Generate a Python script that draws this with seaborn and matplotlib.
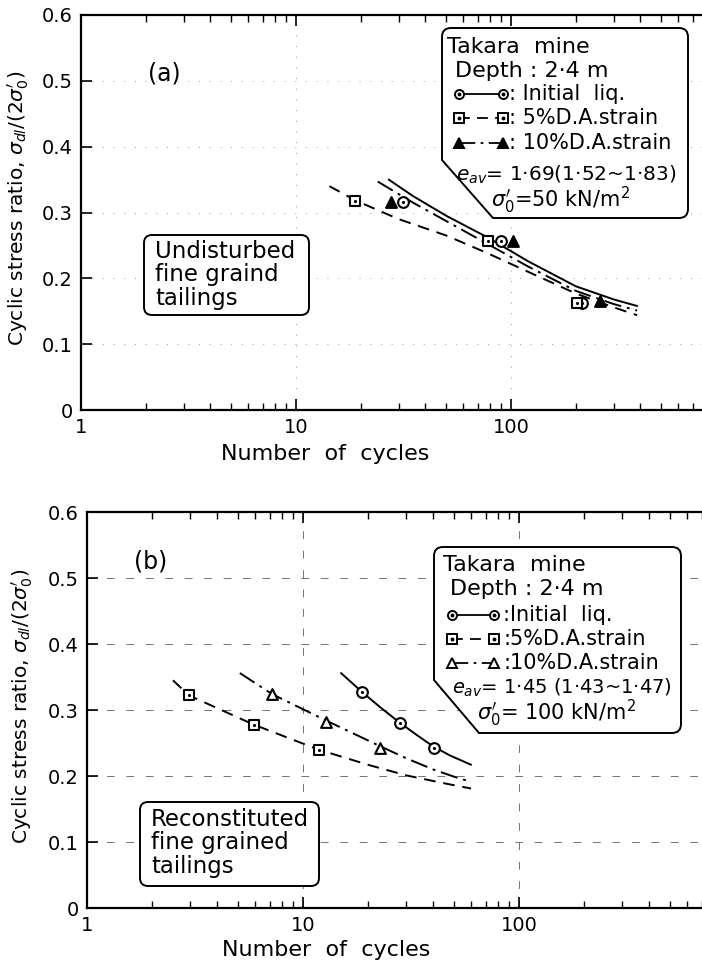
import numpy as np
import pandas as pd
import matplotlib
matplotlib.use("Agg")
import matplotlib.pyplot as plt
import seaborn as sns
from matplotlib.path import Path
from matplotlib.patches import PathPatch
from matplotlib.lines import Line2D
from matplotlib.ticker import FixedLocator, LogLocator, NullFormatter

# ==========================
# DATA
# ==========================
# panel (a) - undisturbed, test points
a_liq_N = [31.5, 90, 214]
a_liq_r = [0.316, 0.257, 0.163]
a_5_N = [18.8, 78, 203]
a_5_r = [0.317, 0.257, 0.163]
a_10_N = [27.7, 102, 259]
a_10_r = [0.316, 0.257, 0.165]

# panel (a) - fitted curves
a_liq_curve_N = [27, 35, 50, 78, 120, 200, 300, 386]
a_liq_curve_r = [0.350, 0.325, 0.295, 0.262, 0.226, 0.188, 0.168, 0.158]
a_10_curve_N = [24, 35, 50, 78, 120, 200, 300, 386]
a_10_curve_r = [0.347, 0.315, 0.287, 0.252, 0.218, 0.181, 0.161, 0.151]
a_5_curve_N = [14.3, 19, 30, 50, 78, 120, 200, 300, 386]
a_5_curve_r = [0.340, 0.318, 0.290, 0.265, 0.238, 0.210, 0.177, 0.156, 0.144]

# panel (b) - reconstituted, test points
b_liq_N = [18.8, 28, 40.2]
b_liq_r = [0.327, 0.281, 0.243]
b_5_N = [2.97, 5.9, 11.8]
b_5_r = [0.322, 0.278, 0.240]
b_10_N = [7.2, 12.8, 22.8]
b_10_r = [0.324, 0.282, 0.243]

# panel (b) - fitted curves
b_liq_curve_N = [15, 18.8, 23, 28, 34, 40, 48, 60]
b_liq_curve_r = [0.356, 0.327, 0.303, 0.281, 0.261, 0.245, 0.231, 0.217]
b_10_curve_N = [5.1, 7.2, 12.8, 22.8, 30, 40, 50, 60]
b_10_curve_r = [0.356, 0.324, 0.284, 0.245, 0.227, 0.210, 0.199, 0.191]
b_5_curve_N = [2.5, 2.97, 5.9, 11.8, 20, 30, 45, 60]
b_5_curve_r = [0.345, 0.322, 0.278, 0.240, 0.217, 0.201, 0.189, 0.181]

y_ticks = [0, 0.1, 0.2, 0.3, 0.4, 0.5, 0.6]
y_ticklabels = ["0", "0.1", "0.2", "0.3", "0.4", "0.5", "0.6"]
x_ticks = [1, 10, 100, 1000]
x_ticklabels = ["1", "10", "100", ""]

# ==========================
# STYLE
# ==========================
sns.set_style("white")
plt.rcParams["font.family"] = ["DejaVu Sans"]
plt.rcParams["mathtext.fontset"] = "dejavusans"
plt.rcParams["text.color"] = "k"
plt.rcParams["axes.labelcolor"] = "k"
plt.rcParams["xtick.color"] = "k"
plt.rcParams["ytick.color"] = "k"

W, H = 702, 967
fig = plt.figure(figsize=(W / 100, H / 100), dpi=100)

def fx(x):
    return x / W

def fy(y):
    return 1 - y / H

LS_SOLID = "-"
LS_DASH = (0, (6, 4))
LS_DASHDOT = (0, (9, 3, 1.5, 3))


def setup_axes(ax, grid_ls, grid_col):
    ax.set_xscale("log")
    ax.set_xlim(1, 1000)
    ax.set_ylim(0, 0.6)
    ax.xaxis.set_major_locator(FixedLocator(x_ticks))
    ax.set_xticklabels(x_ticklabels)
    ax.xaxis.set_minor_locator(LogLocator(base=10, subs=np.arange(2, 10)))
    ax.xaxis.set_minor_formatter(NullFormatter())
    ax.set_yticks(y_ticks)
    ax.set_yticklabels(y_ticklabels)
    ax.tick_params(which="both", direction="in", top=True, bottom=True,
                   left=True, right=False, colors="k", labelsize=14, pad=6)
    ax.tick_params(which="major", length=8, width=1.2)
    ax.tick_params(which="minor", length=5, width=1.0)
    for s in ["left", "bottom", "top"]:
        ax.spines[s].set_color("k")
        ax.spines[s].set_linewidth(1.6)
    ax.spines["right"].set_visible(False)
    ax.grid(True, which="major", color=grid_col, lw=0.7, ls=grid_ls)
    ax.set_xlabel("Number  of  cycles", fontsize=16)
    ax.set_ylabel(r"Cyclic stress ratio, $\sigma_{dl}/(2\sigma_0')$", fontsize=14.5)


def draw_panel(ax, curves, points, tri_fill):
    for (N, r, ls) in curves:
        sns.lineplot(x=N, y=r, ax=ax, color="k", lw=1.4, linestyle=ls,
                     sort=False, estimator=None)
    for (N, r, mk) in points:
        fc = "white"
        if mk == "^":
            fc = tri_fill
        sns.scatterplot(x=N, y=r, ax=ax, marker=mk, s=60, facecolor=fc,
                        edgecolor="k", linewidth=1.5, zorder=5)
        if mk != "^":
            sns.scatterplot(x=N, y=r, ax=ax, marker="o", s=5, color="k",
                            linewidth=0, zorder=6)


def chamfer_box(x0, y0, x1, y1, r, cut_y=None, cut_x=None):
    # rounded box (pixel coords, y down), optional diagonal cut at lower-left
    verts = [(x0, y0 + r), (x0, y0), (x0 + r, y0),
             (x1 - r, y0), (x1, y0), (x1, y0 + r),
             (x1, y1 - r), (x1, y1), (x1 - r, y1)]
    codes = [Path.MOVETO, Path.CURVE3, Path.CURVE3,
             Path.LINETO, Path.CURVE3, Path.CURVE3,
             Path.LINETO, Path.CURVE3, Path.CURVE3]
    if cut_y is not None:
        verts += [(cut_x, y1), (x0, cut_y), (x0, y0 + r)]
        codes += [Path.LINETO, Path.LINETO, Path.CLOSEPOLY]
    else:
        verts += [(x0 + r, y1), (x0, y1), (x0, y1 - r), (x0, y0 + r)]
        codes += [Path.LINETO, Path.CURVE3, Path.CURVE3, Path.CLOSEPOLY]
    verts = [(fx(a), fy(b)) for a, b in verts]
    p = PathPatch(Path(verts, codes), transform=fig.transFigure,
                  facecolor="white", edgecolor="k", lw=1.4, zorder=10)
    fig.add_artist(p)


def legend_sample(x0, x1, y, ls, mk, fill):
    fig.add_artist(Line2D([fx(x0), fx(x1)], [fy(y), fy(y)], transform=fig.transFigure,
                          color="k", lw=1.3, linestyle=ls, marker=mk, ms=6.5,
                          mfc=fill, mec="k", mew=1.4, zorder=11))
    if mk != "^":
        fig.add_artist(Line2D([fx(x0), fx(x1)], [fy(y), fy(y)], transform=fig.transFigure,
                              ls="none", marker="o", ms=1.8, color="k", zorder=12))


def txt(x, y, s, size=15, ha="left"):
    fig.text(fx(x), fy(y), s, fontsize=size, ha=ha, va="center", zorder=12)


# ==========================
# PANEL (a)
# ==========================
ax_a = fig.add_axes([fx(81), fy(410), 645 / W, 395 / H])
draw_panel(ax_a,
           [(a_liq_curve_N, a_liq_curve_r, LS_SOLID),
            (a_10_curve_N, a_10_curve_r, LS_DASHDOT),
            (a_5_curve_N, a_5_curve_r, LS_DASH)],
           [(a_liq_N, a_liq_r, "o"), (a_5_N, a_5_r, "s"), (a_10_N, a_10_r, "^")],
           tri_fill="k")
setup_axes(ax_a, (0, (1, 10)), "0.6")
ax_a.xaxis.set_label_coords((325 - 81) / 645, -0.085)
ax_a.yaxis.set_label_coords(-0.078, 0.51)

txt(148, 73, "(a)", size=17)
chamfer_box(144, 235, 309, 315, 8)
txt(155, 252, "Undisturbed", size=16.5)
txt(155, 275, "fine graind", size=16.5)
txt(155, 298, "tailings", size=16.5)

chamfer_box(442, 28, 688, 218, 9, cut_y=160, cut_x=493)
txt(447, 47, "Takara  mine", size=16)
txt(455, 71, "Depth : 2·4 m", size=16)
legend_sample(459, 503, 94, LS_SOLID, "o", "white")
legend_sample(459, 503, 118, LS_DASH, "s", "white")
legend_sample(459, 503, 143, LS_DASHDOT, "^", "k")
txt(509, 94, ": Initial  liq.")
txt(509, 118, ": 5%D.A.strain")
txt(509, 143, ": 10%D.A.strain")
txt(566, 175, r"$e_{av}$= 1·69(1·52~1·83)", size=14.5, ha="center")
txt(560, 200, r"$\sigma_0'$=50 kN/m$^2$", size=15, ha="center")

# ==========================
# PANEL (b)
# ==========================
ax_b = fig.add_axes([fx(87), fy(908), 648 / W, 396 / H])
draw_panel(ax_b,
           [(b_liq_curve_N, b_liq_curve_r, LS_SOLID),
            (b_10_curve_N, b_10_curve_r, LS_DASHDOT),
            (b_5_curve_N, b_5_curve_r, LS_DASH)],
           [(b_liq_N, b_liq_r, "o"), (b_5_N, b_5_r, "s"), (b_10_N, b_10_r, "^")],
           tri_fill="white")
setup_axes(ax_b, (0, (8, 12)), "0.45")
ax_b.xaxis.set_label_coords((326 - 87) / 648, -0.08)
ax_b.yaxis.set_label_coords(-0.080, 0.51)

txt(134, 562, "(b)", size=17)
chamfer_box(140, 802, 319, 886, 8)
txt(151, 820, "Reconstituted", size=16.5)
txt(151, 843, "fine grained", size=16.5)
txt(151, 867, "tailings", size=16.5)

chamfer_box(434, 547, 681, 733, 9, cut_y=680, cut_x=479)
txt(443, 565, "Takara  mine", size=16)
txt(450, 589, "Depth : 2·4 m", size=16)
legend_sample(452, 494, 615, LS_SOLID, "o", "white")
legend_sample(452, 494, 639, LS_DASH, "s", "white")
legend_sample(452, 494, 663, LS_DASHDOT, "^", "white")
txt(503, 615, ":Initial  liq.")
txt(503, 639, ":5%D.A.strain")
txt(503, 663, ":10%D.A.strain")
txt(562, 688, r"$e_{av}$= 1·45 (1·43~1·47)", size=14, ha="center")
txt(556, 713, r"$\sigma_0'$= 100 kN/m$^2$", size=15, ha="center")

fig.savefig("out.png", dpi=100)
